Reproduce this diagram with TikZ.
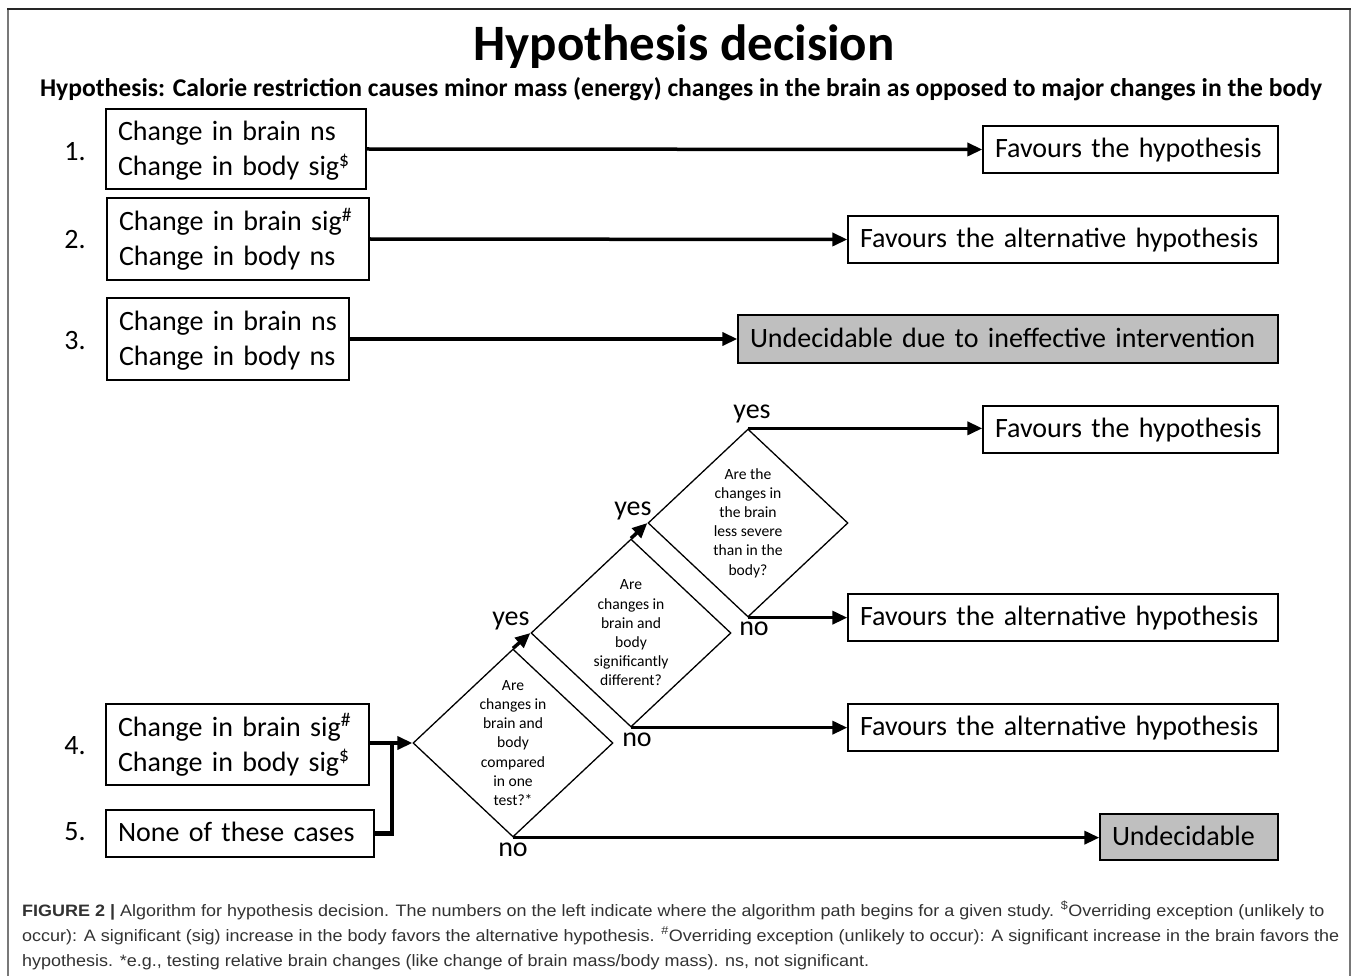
\documentclass[tikz,border=0pt]{standalone}
\usepackage{fontspec}
\setmainfont{Carlito}
\newfontfamily\capfont[FakeStretch=1.09]{Liberation Sans}
\usetikzlibrary{arrows.meta,shapes.geometric}
\definecolor{boxgray}{RGB}{191,191,191}
\definecolor{captxt}{RGB}{50,50,50}
\definecolor{framegray}{RGB}{120,120,120}
\newcommand\myTopStrut{\rule{0pt}{24pt}}
\newcommand\myBotStrut{\rule[-6pt]{0pt}{6pt}}
\begin{document}
\begin{tikzpicture}[x=1pt,y=-1pt,
  box/.style={draw, line width=1.3pt, inner xsep=12pt, inner ysep=0pt, align=left,
    execute at begin node={\hyphenpenalty=10000\exhyphenpenalty=10000},
    font=\fontsize{28}{35}\selectfont},
  onel/.style={text height=22pt, text depth=6pt},
  gbox/.style={box, fill=boxgray},
  conn/.style={line width=3.5pt, -{Triangle[length=15pt,width=13pt]}},
  dmd/.style={draw, diamond, line width=1.3pt, inner sep=0pt, minimum width=200pt, minimum height=188pt},
  dtext/.style={align=center, inner sep=0pt, font=\fontsize{15.6}{19.2}\selectfont},
  lbl/.style={inner sep=0pt, font=\fontsize{28}{35}\selectfont},
  captext/.style={inner sep=0pt, text=captxt, font=\capfont\fontsize{16.5}{20}\selectfont}]
\useasboundingbox (0,0) rectangle (1357,976);
% frame
\draw[framegray, line width=1.5pt] (8,9) -- (8,976);
\draw[framegray, line width=1.5pt] (1350,9) -- (1350,976);
\draw[black!85, line width=1.5pt] (7.25,9) -- (1350.75,9);
% titles
\node[inner sep=0pt, font=\bfseries\fontsize{51}{60}\selectfont] (title) at (684,47) {Hypothesis decision};
\node[inner sep=0pt, font=\bfseries\fontsize{25.6}{30}\selectfont] (sub) at (681,89) {Hypothesis: Calorie restriction causes minor mass (energy) changes in the brain as opposed to major changes in the body};
% numbers
\node[lbl] (n1) at (75,152) {1.};
\node[lbl] (n2) at (75,240) {2.};
\node[lbl] (n3) at (75,341) {3.};
\node[lbl] (n4) at (75,746) {4.};
\node[lbl] (n5) at (75,832) {5.};
% start boxes
\node[box, text width=236pt, minimum height=80pt] (b1) at (236,149) {\myTopStrut Change in brain ns\\Change in body sig\textsuperscript{\$}\myBotStrut};
\node[box, text width=238pt, minimum height=82pt] (b2) at (238,239) {\myTopStrut Change in brain sig\textsuperscript{\#}\\Change in body ns\myBotStrut};
\node[box, text width=218pt, minimum height=82pt] (b3) at (228,339) {\myTopStrut Change in brain ns\\Change in body ns\myBotStrut};
\node[box, text width=239pt, minimum height=81pt] (b4) at (237.5,744.5) {\myTopStrut Change in brain sig\textsuperscript{\#}\\Change in body sig\textsuperscript{\$}\myBotStrut};
\node[box, onel, text width=244pt, minimum height=47pt] (b5) at (240,833.5) {None of these cases};
% outcome boxes
\node[box, onel, text width=271pt, minimum height=47pt] (t1) at (1130.5,149.5) {Favours the hypothesis};
\node[box, onel, text width=406pt, minimum height=47pt] (t2) at (1063,239.5) {Favours the alternative hypothesis};
\node[gbox, onel, text width=516pt, minimum height=48pt] (t3) at (1008,339) {Undecidable due to ineffective intervention};
\node[box, onel, text width=271pt, minimum height=47pt] (t4) at (1130.5,429.5) {Favours the hypothesis};
\node[box, onel, text width=406pt, minimum height=47pt] (t5) at (1063,617.5) {Favours the alternative hypothesis};
\node[box, onel, text width=406pt, minimum height=47pt] (t6) at (1063,727.5) {Favours the alternative hypothesis};
\node[gbox, onel, text width=154pt, minimum height=46pt] (t7) at (1189,837) {Undecidable};
% diamonds
\node[dmd] (d1) at (513,743) {};
\node[dtext] (d1t) at (d1.center) {Are\\changes in\\brain and\\body\\compared\\in one\\test?*};
\node[dmd] (d2) at (631,633) {};
\node[dtext] (d2t) at (d2.center) {Are\\changes in\\brain and\\body\\significantly\\different?};
\node[dmd] (d3) at (748,523) {};
\node[dtext] (d3t) at (d3.center) {Are the\\changes in\\the brain\\less severe\\than in the\\body?};
% yes / no labels
\node[lbl] (y1) at (511,621) {yes};
\node[lbl] (y2) at (633,511) {yes};
\node[lbl] (y3) at (752,414) {yes};
\node[lbl] (o3) at (754,629) {no};
\node[lbl] (o2) at (637,740) {no};
\node[lbl] (o1) at (513,850) {no};
% connectors
\draw[conn] (b1.east) -- (t1.west);
\draw[conn] (b2.east) -- (t2.west);
\draw[conn] (b3.east) -- (t3.west);
\coordinate (j) at (392,743);
\draw[line width=4.5pt] (b5.east) -| (j);
\draw[conn] (b4.east |- d1.west) -- (d1.west);
\draw[conn] (d1.north) -- (d2.west);
\draw[conn] (d2.north) -- (d3.west);
\draw[conn] (d3.north) -- (d3.north -| t4.west);
\draw[conn] (d3.south) -- (d3.south -| t5.west);
\draw[conn] (d2.south) -- (d2.south -| t6.west);
\draw[conn] (d1.south) -- (d1.south -| t7.west);
% caption
\node[captext, anchor=base west] (c1) at (22,916) {\textbf{FIGURE 2 |} Algorithm for hypothesis decision. The numbers on the left indicate where the algorithm path begins for a given study. \textsuperscript{\$}Overriding exception (unlikely to};
\node[captext, anchor=base west] (c2) at (22,941) {occur): A significant (sig) increase in the body favors the alternative hypothesis. \textsuperscript{\#}Overriding exception (unlikely to occur): A significant increase in the brain favors the};
\node[captext, anchor=base west] (c3) at (22,966) {hypothesis. *e.g., testing relative brain changes (like change of brain mass/body mass). ns, not significant.};
\end{tikzpicture}
\end{document}
